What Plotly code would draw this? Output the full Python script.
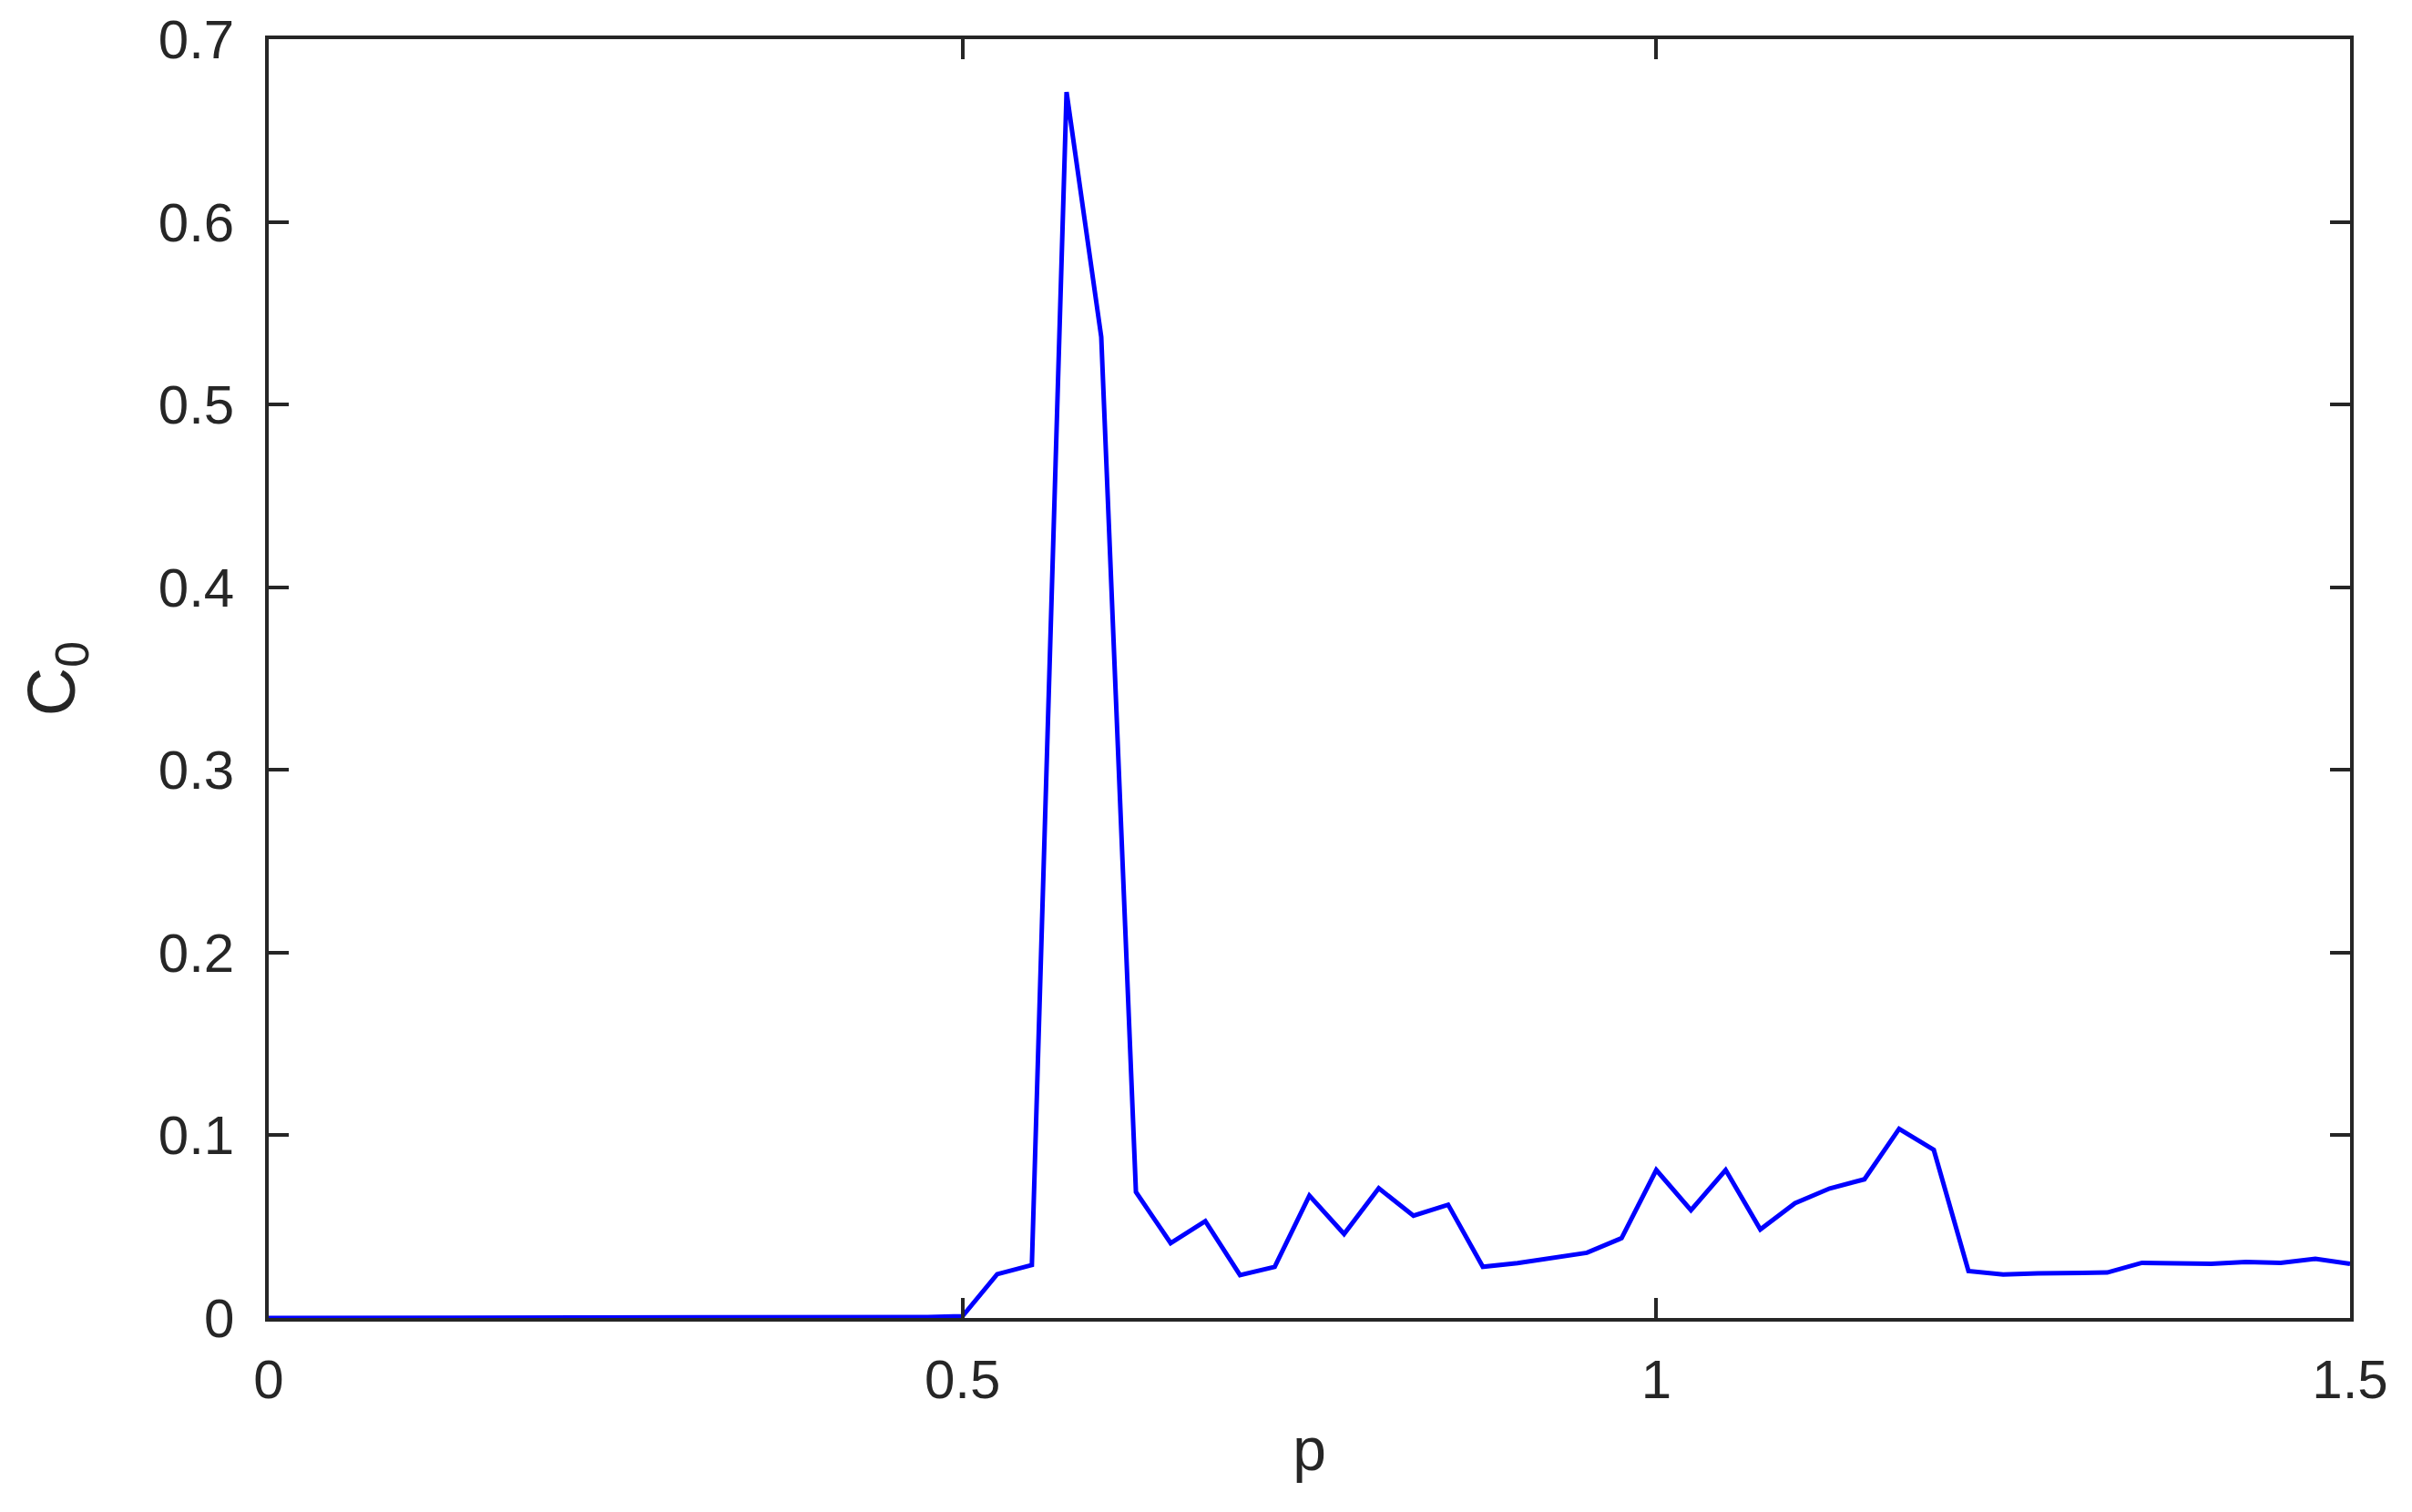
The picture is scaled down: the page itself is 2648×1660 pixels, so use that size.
import plotly.graph_objects as go

# p grid and measured C0 values
p_values = [
    0.0, 0.025, 0.05, 0.075, 0.1, 0.125, 0.15, 0.175, 0.2,
    0.225, 0.25, 0.275, 0.3, 0.325, 0.35, 0.375, 0.4, 0.425, 0.45, 0.475,
    0.5, 0.525, 0.55, 0.575, 0.6, 0.625, 0.65, 0.675, 0.7, 0.725,
    0.75, 0.775, 0.8, 0.825, 0.85, 0.875, 0.9, 0.925, 0.95, 0.975,
    1.0, 1.025, 1.05, 1.075, 1.1, 1.125, 1.15, 1.175, 1.2, 1.225,
    1.25, 1.275, 1.3, 1.325, 1.35, 1.375, 1.4, 1.425, 1.45, 1.475, 1.5,
]
c0_values = [
    0.0, 0.0, 0.0, 0.0, 0.0, 0.0, 0.0, 0.0, 0.0,
    0.0005, 0.0005, 0.0005, 0.0005, 0.0005, 0.0005, 0.0005, 0.0005, 0.0005, 0.0005, 0.0005,
    0.001, 0.024, 0.029, 0.671, 0.537, 0.069, 0.041, 0.053, 0.0235, 0.028,
    0.067, 0.046, 0.071, 0.056, 0.062, 0.028, 0.030, 0.033, 0.0357, 0.0437,
    0.081, 0.059, 0.081, 0.0485, 0.0628, 0.0709, 0.0759, 0.1035, 0.092, 0.0257,
    0.0238, 0.0244, 0.0249, 0.0249, 0.0302, 0.0301, 0.0297, 0.0307, 0.0302, 0.0324, 0.0297,
]

x_tickvals = [0, 0.5, 1, 1.5]
x_ticktext = ['0', '0.5', '1', '1.5']
y_tickvals = [0, 0.1, 0.2, 0.3, 0.4, 0.5, 0.6, 0.7]
y_ticktext = ['0', '0.1', '0.2', '0.3', '0.4', '0.5', '0.6', '0.7']

axis_color = '#262626'

fig = go.Figure()

fig.add_trace(go.Scatter(
    x=p_values,
    y=c0_values,
    mode='lines',
    line=dict(color='#0000FF', width=5),
    showlegend=False
))

common_axis = dict(
    showgrid=False,
    zeroline=False,
    showline=True,
    linecolor=axis_color,
    linewidth=3.5,
    mirror='ticks',
    ticks='inside',
    ticklen=22,
    tickwidth=3.5,
    tickcolor=axis_color,
    ticklabeloverflow='allow',
    automargin=False,
    tickfont=dict(family='Liberation Sans', size=60, color=axis_color),
)

fig.update_layout(
    width=2632,
    height=1644,
    paper_bgcolor='white',
    plot_bgcolor='white',
    font=dict(family='Liberation Sans', color=axis_color, size=60),
    margin=dict(l=287, r=60, t=35, b=205, autoexpand=False),
    xaxis=dict(
        common_axis,
        range=[0, 1.5],
        tickmode='array',
        tickvals=x_tickvals,
        ticktext=x_ticktext,
        ticklabelstandoff=12,
        title=dict(text='p', font=dict(size=66), standoff=22),
    ),
    yaxis=dict(
        common_axis,
        range=[0, 0.7],
        tickmode='array',
        tickvals=y_tickvals,
        ticktext=y_ticktext,
        ticklabelstandoff=22,
        title=dict(text='C<sub>0</sub>', font=dict(size=74), standoff=68),
    ),
)

fig.write_html("out.html")
